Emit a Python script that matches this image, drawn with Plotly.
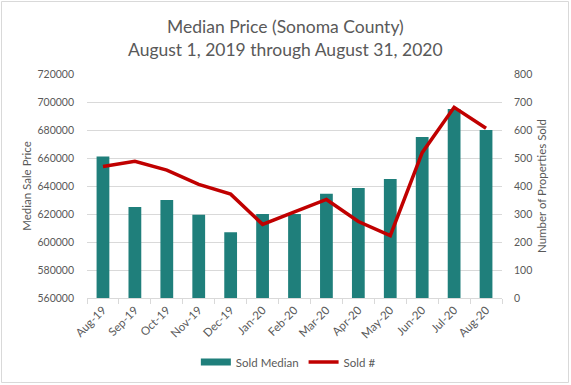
import plotly.graph_objects as go

months = ["Aug-19", "Sep-19", "Oct-19", "Nov-19", "Dec-19", "Jan-20", "Feb-20",
          "Mar-20", "Apr-20", "May-20", "Jun-20", "Jul-20", "Aug-20"]
sold_median = [661000, 625000, 630000, 619500, 607000, 620000, 620000,
               634500, 638500, 645000, 675000, 695000, 680000]
sold_count = [470, 488, 457, 406, 371, 263, 308, 352, 273, 223, 519, 681, 606]

TXT = "#595959"
GRID = "#d9d9d9"
TEAL = "#1f7f7b"
RED = "#c00000"
FONT = "Lato"
TICK = 10.5

fig = go.Figure()
fig.add_trace(go.Bar(x=months, y=sold_median, name="Sold Median", showlegend=False,
                     marker=dict(color=TEAL, line=dict(width=0))))
# legend proxy so the bar key is a wide flat swatch like the original
fig.add_trace(go.Scatter(x=[None], y=[None], name="Sold Median", mode="lines",
                         line=dict(color=TEAL, width=7), hoverinfo="skip"))
fig.add_trace(go.Scatter(x=months, y=sold_count, name="Sold #", mode="lines",
                         yaxis="y2", line=dict(color=RED, width=3.5)))

L, R, T, B = 87, 502, 74, 298
W, H = 571, 385
pw, ph = R - L, B - T

def px(x):
    return (x - L) / pw

def py(y):
    return (B - y) / ph

fig.update_layout(
    width=W, height=H,
    margin=dict(l=L, r=W - R, t=T, b=H - B, pad=0, autoexpand=False),
    paper_bgcolor="white", plot_bgcolor="white",
    font=dict(family=FONT, color=TXT, size=11),
    bargap=0.6,
    showlegend=True,
    legend=dict(orientation="h", xref="container", yref="container",
                x=0.505, y=1 - 362 / H, xanchor="center", yanchor="middle",
                font=dict(size=11.5, color=TXT), itemwidth=30, tracegroupgap=0),
    xaxis=dict(type="category", tickangle=-45, showgrid=False, automargin=False,
               showline=True, linecolor=GRID, linewidth=1,
               ticks="outside", tickson="boundaries", ticklen=5, tickcolor=GRID,
               tickfont=dict(size=11.5, color=TXT)),
    yaxis=dict(range=[560000, 720000], dtick=20000, showgrid=True, gridcolor=GRID,
               gridwidth=1, zeroline=False, showline=False, ticks="", automargin=False,
               tickformat="d", ticklabelstandoff=12,
               title=dict(text="Median Sale Price", font=dict(size=11.5, color=TXT), standoff=3),
               tickfont=dict(size=TICK, color=TXT)),
    yaxis2=dict(range=[0, 800], dtick=100, overlaying="y", side="right",
                showgrid=False, zeroline=False, showline=False, ticks="", automargin=False,
                ticklabelstandoff=11,
                title=dict(text="Number of Properties Sold", font=dict(size=11.5, color=TXT), standoff=6),
                tickfont=dict(size=TICK, color=TXT)),
    annotations=[
        dict(text="Median Price (Sonoma County)", xref="paper", yref="paper",
             x=px(285.5), y=py(26.5), xanchor="center", yanchor="middle",
             showarrow=False, font=dict(size=17.5, color=TXT)),
        dict(text="August 1, 2019 through August 31, 2020", xref="paper", yref="paper",
             x=px(285.5), y=py(49.5), xanchor="center", yanchor="middle",
             showarrow=False, font=dict(size=17.5, color=TXT)),
    ],
    shapes=[dict(type="rect", xref="paper", yref="paper",
                 x0=px(1.5), x1=px(568.5), y0=py(382.5), y1=py(1.5),
                 line=dict(color=GRID, width=1), layer="below")],
)

fig.write_html("out.html", config={"displayModeBar": False},
               post_script="document.body.style.margin='0px';"
                           "document.body.style.overflow='hidden';")
